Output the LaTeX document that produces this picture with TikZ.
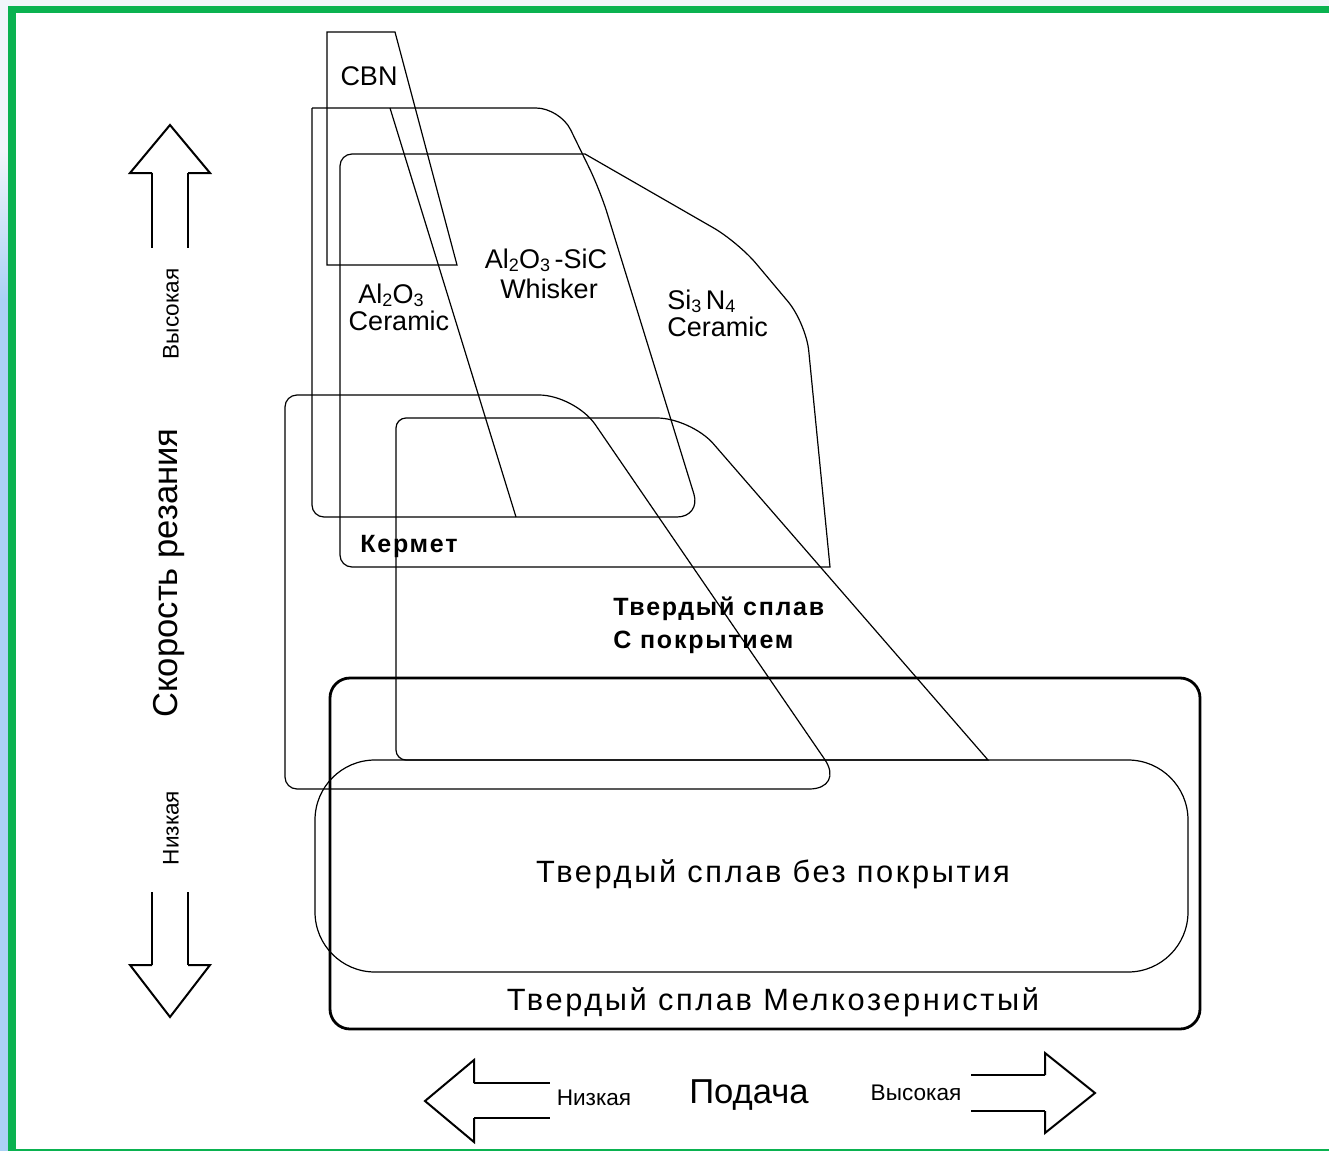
\documentclass[tikz,border=0pt]{standalone}
\usepackage{fontspec}
\setmainfont{Liberation Sans}
\newfontfamily\trackedfont[LetterSpace=7]{Liberation Sans}
\newfontfamily\widetrackedfont[LetterSpace=8.5]{Liberation Sans}
\newcommand\lowidx[1]{\raisebox{-1.5pt}{\fontsize{9}{9}\selectfont #1}}
\definecolor{framegreen}{RGB}{10,178,80}
\definecolor{stripblue}{RGB}{170,208,245}
\definecolor{pagetint}{RGB}{241,245,250}
\begin{document}
\begin{tikzpicture}[x=0.5pt,y=-0.5pt,
  region/.style={draw=black,line width=0.6pt},
  grainbox/.style={draw=black,line width=1.4pt,rounded corners=10},
  shaft/.style={draw=black,line width=1.2pt},
  head/.style={draw=black,line width=1pt,line join=miter},
  lbl/.style={inner sep=0pt,anchor=base,font=\fontsize{13.5}{16}\selectfont},
  boldlbl/.style={inner sep=0pt,anchor=base west,font=\trackedfont\bfseries\fontsize{12.5}{15}\selectfont},
  biglbl/.style={inner sep=0pt,anchor=base,font=\widetrackedfont\fontsize{15.4}{18}\selectfont},
  smalllbl/.style={inner sep=0pt,anchor=base,font=\fontsize{11.3}{13}\selectfont},
  axislbl/.style={inner sep=0pt,font=\fontsize{17.3}{20}\selectfont}
]
\useasboundingbox (0,0) rectangle (1329,1151);

% page, frame and side strip
\fill[pagetint] (0,0) rectangle (1329,1151);
\shade[top color=pagetint,bottom color=stripblue] (0,150) rectangle (8,300);
\fill[stripblue] (0,300) rectangle (8,1151);
\fill[framegreen] (8,6) rectangle (1329,13);
\fill[framegreen] (8,6) rectangle (16,1151);
\fill[white] (16,13) rectangle (1329,1149);
\fill[framegreen] (16,1149) rectangle (1329,1151);

% CBN
\draw[region] (327,32) -- (395,32) -- (457,265) -- (327,265) -- cycle;

% Al2O3 / Al2O3-SiC ceramics
\draw[region] (312,108) [rounded corners=12] -- (560,108) -- (600,190) -- (701,517) [rounded corners=6] -- (312,517) [sharp corners] -- (312,108);
\draw[region] (390,108) -- (516,517);

% Si3N4 ceramic and cermet
\draw[region] (340,300) [rounded corners=6] -- (340,154) [sharp corners] -- (585,154) [rounded corners=14] -- (738,242) -- (806,323) [sharp corners] -- (830,567) [rounded corners=6] -- (340,567) -- cycle;

% coated carbide outlines
\draw[region] (285,600) [rounded corners=6] -- (285,395) [rounded corners=18] -- (575,395) -- (845,789) [rounded corners=6] -- (285,789) -- cycle;
\draw[region] (396,600) [rounded corners=5] -- (396,418) [rounded corners=17] -- (691,418) [sharp corners] -- (988,760) [rounded corners=5] -- (396,760) -- cycle;

% fine-grain and uncoated carbide
\draw[grainbox] (330,678) rectangle (1200,1029);
\draw[region,rounded corners=30] (315,760) rectangle (1188,972);

% cutting speed arrows
\draw[shaft] (152,173) -- (152,248) (188,173) -- (188,248);
\draw[head] (152,173) -- (130,173) -- (170,125) -- (210,173) -- (188,173);
\draw[shaft] (152,892) -- (152,965) (188,892) -- (188,965);
\draw[head] (152,965) -- (130,965) -- (170,1017) -- (210,965) -- (188,965);

% feed arrows
\draw[shaft] (474,1083) -- (550,1083) (474,1118) -- (550,1118);
\draw[head] (474,1083) -- (474,1060) -- (425,1101) -- (474,1142) -- (474,1118);
\draw[shaft] (971,1075) -- (1045,1075) (971,1111) -- (1045,1111);
\draw[head] (1045,1075) -- (1045,1053) -- (1095,1093) -- (1045,1133) -- (1045,1111);

% labels
\node[lbl] (cbn) at (369,85) {CBN};
\node[lbl] (aloxa) at (391,303) {Al\lowidx{2}O\lowidx{3}};
\node[lbl] (aloxb) at (399,330) {Ceramic};
\node[lbl] (whiskera) at (546,268) {Al\lowidx{2}O\lowidx{3}\,-SiC};
\node[lbl] (whiskerb) at (549,298) {Whisker};
\node[lbl,anchor=base west] (nitridea) at (667,309) {Si\lowidx{3}\,N\lowidx{4}};
\node[lbl,anchor=base west] (nitrideb) at (667,336) {Ceramic};
\node[boldlbl] (cermet) at (360,552) {Кермет};
\node[boldlbl] (coateda) at (613,615) {Твердый сплав};
\node[boldlbl] (coatedb) at (613,648) {С покрытием};
\node[biglbl] (uncoated) at (773,882) {Твердый сплав без покрытия};
\node[biglbl] (finegrain) at (773,1010) {Твердый сплав Мелкозернистый};
\node[axislbl,anchor=base] (feed) at (749,1103) {Подача};
\node[smalllbl] (feedlow) at (594,1105) {Низкая};
\node[smalllbl] (feedhigh) at (916,1100) {Высокая};
\node[smalllbl,anchor=center,rotate=90] (speedhigh) at (171,314) {Высокая};
\node[axislbl,rotate=90] (speed) at (169,573) {Скорость резания};
\node[smalllbl,anchor=center,rotate=90] (speedlow) at (171,828) {Низкая};
\end{tikzpicture}
\end{document}
